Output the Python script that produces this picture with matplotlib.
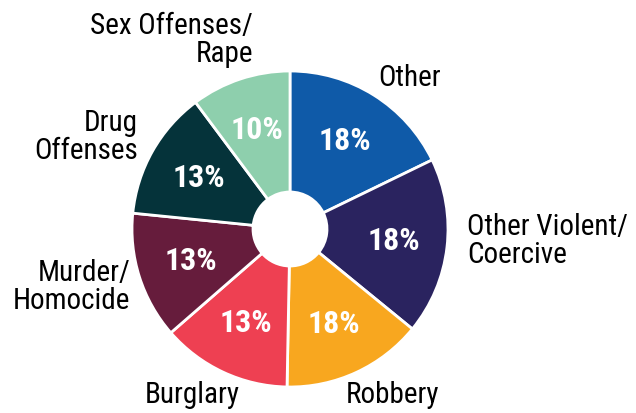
import matplotlib.pyplot as plt

# slices clockwise from 12 o'clock; sizes
categories = ["Other", "Other Violent/\nCoercive", "Robbery", "Burglary",
              "Murder/\nHomocide", "Drug\nOffenses", "Sex Offenses/\nRape"]
shares = [17.8, 18.1, 14.4, 13.3, 13.0, 13.2, 10.2]
pct_labels = ["18%", "18%", "18%", "13%", "13%", "13%", "10%"]
colors = ["#0F5AA8", "#2A235F", "#F8A71F", "#EE4052", "#661C3C", "#05333A", "#8ECFAD"]

W, H = 636, 413
fam = ["Roboto Condensed", "Roboto", "DejaVu Sans"]

fig = plt.figure(figsize=(W / 100, H / 100), dpi=100)
ax = fig.add_axes([0, 0, 1, 1])

wedges, texts = ax.pie(
    shares, labels=pct_labels, colors=colors, startangle=90, counterclock=False,
    center=(290, H - 229), radius=158, labeldistance=0.66,
    wedgeprops=dict(width=158 - 37, edgecolor="white", linewidth=2),
    textprops=dict(color="white", fontsize=23, fontweight="bold", family=fam,
                   ha="center", va="center"))

# pie() resets the limits, so set them afterwards
ax.set_xlim(0, W)
ax.set_ylim(0, H)
ax.set_aspect("equal")
ax.axis("off")

# category names around the ring (pixel positions from the reference)
label_pos = [
    (378, 78, "left"),
    (467, 241, "left"),
    (392, 395, "center"),
    (192, 395, "center"),
    (130, 287, "right"),
    (138, 137, "right"),
    (253, 40, "right"),
]
for name, (px, py, ha) in zip(categories, label_pos):
    ax.text(px, H - py, name, ha=ha, va="center", fontsize=21, family=fam,
            color="black", linespacing=1.0, multialignment=ha)

fig.savefig("out.png", dpi=100)
